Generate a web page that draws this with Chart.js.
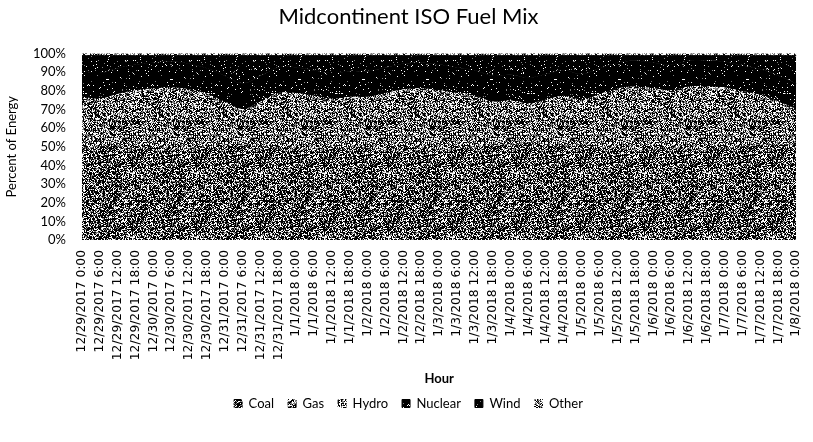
<!DOCTYPE html>
<html>
<head>
<meta charset="utf-8">
<script src="https://cdn.jsdelivr.net/npm/chart.js@4"></script>
<style>
  html, body { margin: 0; padding: 0; background: #ffffff; }
  #wrap { width: 813px; height: 442px; position: relative; }
</style>
</head>
<body>
<div id="wrap"><canvas id="c" width="813" height="442"></canvas></div>
<script>
// Tick labels / categories (6-hour steps)
const hours = [
  "12/29/2017 0:00","12/29/2017 6:00","12/29/2017 12:00","12/29/2017 18:00",
  "12/30/2017 0:00","12/30/2017 6:00","12/30/2017 12:00","12/30/2017 18:00",
  "12/31/2017 0:00","12/31/2017 6:00","12/31/2017 12:00","12/31/2017 18:00",
  "1/1/2018 0:00","1/1/2018 6:00","1/1/2018 12:00","1/1/2018 18:00",
  "1/2/2018 0:00","1/2/2018 6:00","1/2/2018 12:00","1/2/2018 18:00",
  "1/3/2018 0:00","1/3/2018 6:00","1/3/2018 12:00","1/3/2018 18:00",
  "1/4/2018 0:00","1/4/2018 6:00","1/4/2018 12:00","1/4/2018 18:00",
  "1/5/2018 0:00","1/5/2018 6:00","1/5/2018 12:00","1/5/2018 18:00",
  "1/6/2018 0:00","1/6/2018 6:00","1/6/2018 12:00","1/6/2018 18:00",
  "1/7/2018 0:00","1/7/2018 6:00","1/7/2018 12:00","1/7/2018 18:00",
  "1/8/2018 0:00"
];

// Series values (percent of energy)
const coal = [49,50,50,49,48,48,49,50,51,51,50,49,48,49,50,50,49,48,47,47,48,49,50,51,51,52,51,50,51,50,49,48,48,49,48,48,49,50,51,51,51];
const gas = [26.5,24.5,27,30,32,32.5,30.5,27,22,18,23,28.5,29.5,27,24.5,25.5,26.5,29.5,32.5,33,31,28.5,26,22,22.5,20,23,26,23,27,31,33,32,30,33,33,31.5,28.5,25.5,22,18];
const hydro = [1,1,1,1,1,1,1,1,1,1,1,1,1,1,1,1,1,1,1,1,1,1,1,1,1,1,1,1,1,1,1,1,1,1,1,1,1,1,1,1,1];
const nuclear = [14,14,14,14,14,14,14,14,14,14,14,14,14,14,14,14,14,14,14,14,14,14,14,14,14,14,14,14,14,14,14,14,14,14,14,14,14,14,14,14,14];
const wind = [8.3,9.3,6.8,4.8,3.8,3.3,4.3,6.8,10.8,14.8,10.8,6.3,6.3,7.8,9.3,8.3,8.3,6.3,4.3,3.8,4.8,6.3,7.8,10.8,10.3,11.8,9.8,7.8,9.8,6.8,3.8,2.8,3.8,4.8,2.8,2.8,3.3,5.3,7.3,10.8,14.8];
const other = [1.2,1.2,1.2,1.2,1.2,1.2,1.2,1.2,1.2,1.2,1.2,1.2,1.2,1.2,1.2,1.2,1.2,1.2,1.2,1.2,1.2,1.2,1.2,1.2,1.2,1.2,1.2,1.2,1.2,1.2,1.2,1.2,1.2,1.2,1.2,1.2,1.2,1.2,1.2,1.2,1.2];

const seriesNames = ["Coal","Gas","Hydro","Nuclear","Wind","Other"];
const seriesValues = [coal, gas, hydro, nuclear, wind, other];
const yTicks = [0,10,20,30,40,50,60,70,80,90,100];

// Deterministic dithered texture tiles (styling only)
function hashPix(x, y, s) {
  let h = (Math.imul(x, 374761393) + Math.imul(y, 668265263) + Math.imul(s, 982451653)) | 0;
  h = Math.imul(h ^ (h >>> 13), 1274126177);
  h = h ^ (h >>> 16);
  return (h >>> 0) % 1000;
}
function makePattern(seed, dark, grey) {
  const n = 64;
  const cv = document.createElement('canvas');
  cv.width = n; cv.height = n;
  const cx = cv.getContext('2d');
  const img = cx.createImageData(n, n);
  for (let y = 0; y < n; y++) {
    for (let x = 0; x < n; x++) {
      const v = hashPix(x, y, seed);
      let c = 255;
      if (v < dark * 1000) c = 0;
      else if (v < (dark + grey) * 1000) c = 128;
      const i = (y * n + x) * 4;
      img.data[i] = c; img.data[i+1] = c; img.data[i+2] = c; img.data[i+3] = 255;
    }
  }
  cx.putImageData(img, 0, 0);
  return document.getElementById('c').getContext('2d').createPattern(cv, 'repeat');
}
const fills = [
  makePattern(11, 0.55, 0.18),
  makePattern(23, 0.44, 0.24),
  makePattern(37, 0.40, 0.20),
  makePattern(41, 0.95, 0.02),
  makePattern(53, 0.94, 0.02),
  makePattern(67, 0.30, 0.30)
];

const datasets = seriesNames.map((name, i) => ({
  label: name,
  data: seriesValues[i],
  backgroundColor: fills[i],
  borderColor: fills[i],
  borderWidth: 1,
  pointRadius: 0,
  tension: 0.4,
  fill: i === 0 ? 'origin' : '-1'
}));

new Chart(document.getElementById('c'), {
  type: 'line',
  data: { labels: hours, datasets },
  options: {
    responsive: false,
    animation: false,
    devicePixelRatio: 1,
    layout: { padding: { left: 4, right: 0, top: 4, bottom: 22 } },
    plugins: {
      title: {
        display: true,
        text: 'Midcontinent ISO Fuel Mix',
        color: '#000',
        font: { family: 'Lato', size: 22, weight: 'normal' },
        padding: { top: 0, bottom: 23 }
      },
      legend: {
        position: 'bottom',
        labels: {
          color: '#000',
          font: { family: 'Lato', size: 13 },
          boxWidth: 8,
          boxHeight: 8,
          padding: 14
        }
      },
      tooltip: { enabled: false }
    },
    scales: {
      x: {
        stacked: true,
        offset: false,
        grid: { display: false },
        border: { display: false },
        afterFit: (s) => { s.height = 143; },
        ticks: {
          color: '#000',
          autoSkip: false,
          minRotation: 90,
          maxRotation: 90,
          font: { family: 'DejaVu Sans', size: 12.3 },
          padding: 2
        },
        title: {
          display: true,
          text: 'Hour',
          color: '#000',
          font: { family: 'Lato', size: 13, weight: 'bold' },
          padding: { top: 8, bottom: -4 }
        }
      },
      y: {
        stacked: true,
        min: 0,
        max: 100,
        grid: { display: false },
        border: { display: false },
        afterBuildTicks: (s) => { s.ticks = yTicks.map(v => ({ value: v })); },
        afterFit: (s) => { s.width = 78; },
        ticks: {
          color: '#000',
          font: { family: 'Lato', size: 13 },
          padding: 8,
          callback: (v) => v + '%'
        },
        title: {
          display: true,
          text: 'Percent of Energy',
          color: '#000',
          font: { family: 'Lato', size: 13 },
          padding: { top: 0, bottom: 4 }
        }
      }
    }
  }
});
</script>
</body>
</html>
